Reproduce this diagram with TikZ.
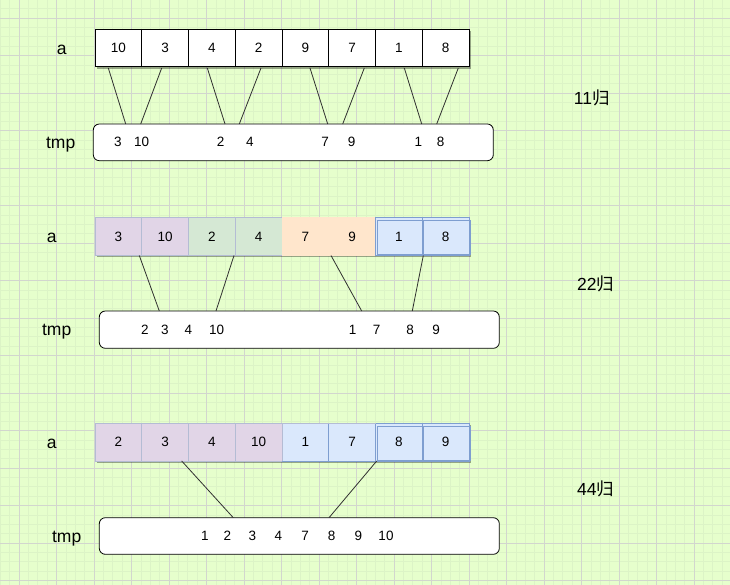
\documentclass[tikz,border=0pt]{standalone}
\usepackage{fontspec}
\setmainfont{Liberation Sans}
\newfontfamily\cjkf{Noto Sans CJK SC}
\usetikzlibrary{shadows}
\definecolor{bggreen}{HTML}{E6FFCC}
\definecolor{minorgrid}{HTML}{DCF4C6}
\definecolor{majorgrid}{HTML}{D2D6CE}
\definecolor{pfill}{HTML}{E1D5E7}
\definecolor{gfill}{HTML}{D5E8D4}
\definecolor{ofill}{HTML}{FFE6CC}
\definecolor{bfill}{HTML}{DAE8FC}
\definecolor{bstroke}{HTML}{7E9ED0}
\definecolor{softstroke}{HTML}{B4BCD4}
\definecolor{linecol}{HTML}{303030}
\begin{document}
\begin{tikzpicture}[x=1pt,y=-1pt,
  cellbase/.style={minimum width=46.75pt,minimum height=37.5pt,inner sep=0pt,outer sep=0pt,
    font=\fontsize{13.5}{13.5}\selectfont,
    drop shadow={shadow xshift=2pt,shadow yshift=-2pt,opacity=0.35,fill=black}},
  wcell/.style={cellbase,draw=black,line width=0.8pt,fill=white},
  pcell/.style={cellbase,draw=softstroke,line width=0.6pt,fill=pfill},
  gcell/.style={cellbase,draw=softstroke,line width=0.6pt,fill=gfill},
  ocell/.style={cellbase,draw=ofill,line width=0.6pt,fill=ofill},
  bcell/.style={cellbase,draw=bstroke,line width=0.8pt,fill=bfill},
  tmpbox/.style={draw=black,line width=0.8pt,fill=white,rounded corners=6pt,inner sep=0pt,outer sep=0pt},
  num/.style={font=\fontsize{13.5}{13.5}\selectfont,inner sep=0pt,anchor=base},
  lbl/.style={font=\fontsize{17.5}{17.5}\selectfont,inner sep=0pt,anchor=base},
  conn/.style={draw=linecol,line width=0.8pt}]
% background and grid
\fill[bggreen] (0,0) rectangle (730,585);
\useasboundingbox (0,0) rectangle (730,585);
\foreach \k in {-2,...,76} {
  \draw[minorgrid,line width=0.6pt] ({19+9.375*\k},0) -- ({19+9.375*\k},585);
}
\foreach \k in {-2,...,61} {
  \draw[minorgrid,line width=0.6pt] (0,{18+9.375*\k}) -- (730,{18+9.375*\k});
}
\foreach \k in {-1,...,19} {
  \draw[majorgrid,line width=0.8pt] ({19+37.5*\k},0) -- ({19+37.5*\k},585);
}
\foreach \k in {-1,...,15} {
  \draw[majorgrid,line width=0.8pt] (0,{18+37.5*\k}) -- (730,{18+37.5*\k});
}

% ---------- Row 1 ----------
\foreach \v [count=\i] in {10,3,4,2,9,7,1,8} {
  \node[wcell] (ra\i) at ({95+46.75*(\i-0.5)},48) {\v};
}
\node[lbl] (la1) at (61.7,55) {a};
\node[tmpbox,minimum width=400pt,minimum height=36.7pt] (t1) at (293.3,142.35) {};
\node[lbl] (lt1) at (60.7,148.3) {tmp};
\foreach \v/\x [count=\i] in {3/118,10/141.7,2/220.7,4/250,7/325,9/351.7,1/418.3,8/440.7} {
  \node[num] (ta\i) at (\x,146.6) {\v};
}
\foreach \sx/\ex [count=\i] in {108.3/125.7,161.7/140.7,207.3/225,261/239.3,310/327.7,364.3/342.7,404.3/421.7,458.3/436.7} {
  \coordinate (s1\i) at (\sx,68);
  \coordinate (e1\i) at (\ex,124);
  \draw[conn] (s1\i) -- (e1\i);
}
\node[lbl] (m1) at (591.7,105) {11{\cjkf 归}};

% ---------- Row 2 ----------
\foreach \v/\st [count=\i] in {3/pcell,10/pcell,2/gcell,4/gcell,7/ocell,9/ocell,1/bcell,8/bcell} {
  \node[\st] (rb\i) at ({95+46.75*(\i-0.5)},236.4) {\v};
}
\foreach \i in {7,8} {
  \draw[bstroke,line width=0.6pt] ([shift={(1.5,2.5)}]rb\i.north west) rectangle ([shift={(1.5,-0.5)}]rb\i.south east);
}
\node[lbl] (la2) at (51.7,242.3) {a};
\node[tmpbox,minimum width=400pt,minimum height=37.3pt] (t2) at (299.3,329.65) {};
\node[lbl] (lt2) at (56.7,335.7) {tmp};
\foreach \v/\x [count=\i] in {2/145,3/165,4/188.3,10/216.7,1/352.7,7/376.7,8/410,9/436} {
  \node[num] (tb\i) at (\x,334.8) {\v};
}
\foreach \sx/\ex [count=\i] in {139.3/159.3,234/216,331/361.7,423.3/412.3} {
  \coordinate (s2\i) at (\sx,255.5);
  \coordinate (e2\i) at (\ex,311);
  \draw[conn] (s2\i) -- (e2\i);
}
\node[lbl] (m2) at (595.7,290) {22{\cjkf 归}};

% ---------- Row 3 ----------
\foreach \v/\st [count=\i] in {2/pcell,3/pcell,4/pcell,10/pcell,1/bcell,7/bcell,8/bcell,9/bcell} {
  \node[\st] (rc\i) at ({95+46.75*(\i-0.5)},442.2) {\v};
}
\foreach \i in {5,6} {
  \draw[bfill,line width=0.8pt] (rc\i.north west) -- (rc\i.north east);
}
\draw[softstroke,line width=0.6pt] (rc5.north west) -- (rc6.north east);
\draw[softstroke,line width=0.6pt] (rc5.north west) -- (rc5.south west);
\foreach \i in {7,8} {
  \draw[bstroke,line width=0.6pt] ([shift={(1.5,2.5)}]rc\i.north west) rectangle ([shift={(1.5,-0.5)}]rc\i.south east);
}
\node[lbl] (la3) at (51.7,448.3) {a};
\node[tmpbox,minimum width=400pt,minimum height=36.6pt] (t3) at (299.3,536) {};
\node[lbl] (lt3) at (66.7,542.7) {tmp};
\foreach \v/\x [count=\i] in {1/205,2/227.3,3/252.3,4/278.3,7/305,8/331.7,9/358.3,10/386} {
  \node[num] (tc\i) at (\x,540.5) {\v};
}
\foreach \sx/\ex [count=\i] in {181.7/233.3,376.7/329} {
  \coordinate (s3\i) at (\sx,461);
  \coordinate (e3\i) at (\ex,517.7);
  \draw[conn] (s3\i) -- (e3\i);
}
\node[lbl] (m3) at (595.7,495) {44{\cjkf 归}};
\end{tikzpicture}
\end{document}
